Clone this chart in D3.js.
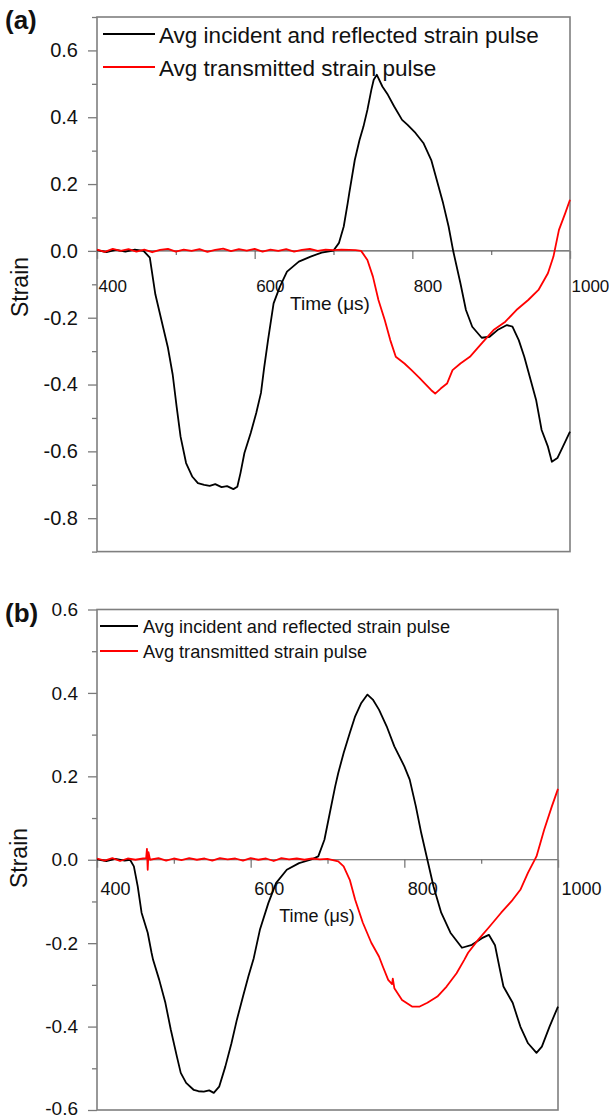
<!DOCTYPE html>
<html>
<head>
<meta charset="utf-8">
<script src="https://cdn.jsdelivr.net/npm/d3@7"></script>
<style>
body { margin: 0; background: #fff; }
svg { font-family: Arial, "Liberation Sans", sans-serif; }
</style>
</head>
<body>
<script>
// [time (us), strain]
var incidentA = [[400,0.002],[412,-0.004],[424,0.003],[436,-0.002],[448,0.004],[459,0],[467,-0.02],[474,-0.13],[484,-0.23],[490,-0.29],[496,-0.37],[501,-0.466],[506,-0.556],[513,-0.635],[521,-0.676],[528,-0.695],[536,-0.70],[543,-0.703],[550,-0.698],[558,-0.707],[565,-0.704],[573,-0.713],[578,-0.706],[582,-0.665],[587,-0.605],[595,-0.545],[602,-0.485],[608,-0.425],[612,-0.35],[617,-0.266],[624,-0.157],[632,-0.107],[641,-0.062],[656,-0.032],[671,-0.017],[685,-0.005],[700,0.001],[707,0.024],[713,0.073],[718,0.143],[720,0.173],[727,0.272],[733,0.332],[738,0.372],[743,0.422],[748,0.482],[751,0.512],[755,0.527],[762,0.492],[769,0.467],[777,0.432],[787,0.392],[794,0.377],[804,0.353],[814,0.323],[824,0.272],[831,0.212],[839,0.143],[846,0.073],[852,-0.002],[861,-0.097],[868,-0.177],[876,-0.227],[888,-0.26],[898,-0.257],[908,-0.237],[920,-0.222],[927,-0.227],[935,-0.267],[942,-0.317],[950,-0.386],[957,-0.446],[964,-0.536],[972,-0.586],[977,-0.631],[984,-0.62],[991,-0.586],[1000,-0.541]];

var transmittedA = [[400,0.004],[410,-0.003],[420,0.006],[430,0.0],[440,0.005],[450,-0.002],[460,0.004],[470,-0.004],[480,0.003],[490,0.006],[500,-0.002],[510,0.004],[520,0.0],[530,0.005],[540,-0.003],[550,0.003],[560,0.007],[570,-0.001],[580,0.005],[590,0.001],[600,0.006],[610,-0.002],[620,0.004],[630,0.0],[640,0.005],[650,-0.002],[660,0.003],[670,0.006],[680,0.0],[690,0.004],[700,0.002],[710,0.004],[720,0.003],[728,0.002],[735,0],[743,-0.027],[750,-0.077],[757,-0.147],[765,-0.207],[772,-0.267],[779,-0.317],[790,-0.337],[799,-0.357],[809,-0.38],[816,-0.397],[824,-0.417],[829,-0.427],[836,-0.412],[844,-0.397],[851,-0.357],[861,-0.337],[873,-0.317],[888,-0.277],[903,-0.237],[918,-0.212],[932,-0.177],[947,-0.147],[960,-0.117],[972,-0.067],[979,-0.017],[986,0.063],[994,0.113],[1000,0.153]];

var incidentB = [[400,0.001],[412,-0.003],[424,0.002],[436,-0.002],[443,0],[448,-0.016],[453,-0.064],[458,-0.127],[466,-0.175],[471,-0.223],[473,-0.24],[481,-0.288],[489,-0.343],[496,-0.407],[504,-0.472],[509,-0.511],[516,-0.535],[526,-0.552],[532,-0.555],[539,-0.556],[546,-0.553],[552,-0.559],[559,-0.544],[567,-0.496],[575,-0.44],[582,-0.384],[590,-0.328],[597,-0.28],[604,-0.236],[612,-0.168],[623,-0.104],[633,-0.056],[647,-0.024],[663,-0.008],[678,0],[688,0.008],[696,0.048],[703,0.112],[710,0.176],[714,0.208],[721,0.256],[729,0.304],[736,0.344],[744,0.376],[752,0.396],[759,0.384],[767,0.36],[777,0.32],[787,0.272],[800,0.224],[807,0.192],[815,0.128],[822,0.064],[830,0],[838,-0.064],[848,-0.127],[860,-0.175],[875,-0.211],[888,-0.204],[901,-0.188],[910,-0.18],[918,-0.205],[924,-0.26],[929,-0.304],[941,-0.343],[951,-0.4],[961,-0.44],[972,-0.463],[979,-0.448],[989,-0.4],[1000,-0.352]];

var transmittedB = [[400,0.003],[410,-0.002],[420,0.004],[430,-0.003],[440,0.003],[450,0.0],[460,0.003],[464,0.004],[465,0.026],[466,-0.024],[467,0.018],[469,0.0],[480,0.004],[490,-0.002],[500,0.003],[510,-0.001],[520,0.004],[530,0.0],[540,0.003],[550,-0.002],[560,0.004],[570,0.001],[580,0.003],[590,-0.002],[600,0.004],[610,0.0],[620,0.003],[630,-0.003],[640,0.004],[650,0.001],[660,0.003],[670,0.0],[680,0.003],[690,0.001],[700,0.002],[714,-0.004],[721,-0.016],[729,-0.048],[736,-0.096],[746,-0.151],[757,-0.199],[767,-0.232],[772,-0.256],[779,-0.288],[784,-0.298],[785,-0.285],[787,-0.308],[797,-0.336],[810,-0.352],[820,-0.352],[830,-0.343],[843,-0.328],[855,-0.304],[868,-0.272],[878,-0.24],[883,-0.223],[896,-0.192],[911,-0.16],[926,-0.127],[941,-0.096],[951,-0.072],[961,-0.031],[972,0.008],[982,0.072],[992,0.128],[1000,0.17]];

var xTicks = [400, 600, 800, 1000];
var xMinor = [500, 700, 900];
var yTicksA = [-0.8, -0.6, -0.4, -0.2, 0.0, 0.2, 0.4, 0.6];
var yTicksB = [-0.6, -0.4, -0.2, 0.0, 0.2, 0.4, 0.6];
var legendNames = ["Avg incident and reflected strain pulse", "Avg transmitted strain pulse"];
var seriesColors = ["#000000", "#ff0000"];

var W = 609, H = 1118;
var svg = d3.select("body").append("svg")
    .attr("width", W)
    .attr("height", H);

var panels = [
    { tag: "(a)", tagY: 29, left: 97, right: 570, top: 17, bottom: 551.6, yDomain: [-0.9, 0.7],
      yTicks: yTicksA, series: [incidentA, transmittedA],
      yFont: 20, xFont: 17, xLabDx: 1, xLabDy: 41, legFont: 22.5,
      legX: [103, 155, 159], legY: [34, 67],
      strainX: 28, strainY: 287, timeX: 330, timeY: 310, timeFont: 19 },
    { tag: "(b)", tagY: 622, left: 97, right: 558, top: 609.5, bottom: 1110, yDomain: [-0.6, 0.6],
      yTicks: yTicksB, series: [incidentB, transmittedB],
      yFont: 19, xFont: 18, xLabDx: 3, xLabDy: 35, legFont: 18.2,
      legX: [100, 138, 143], legY: [626, 651],
      strainX: 27, strainY: 858, timeX: 317, timeY: 922, timeFont: 18 }
];

var fmt = function(d){ return d.toFixed(1); };

panels.forEach(function(p){
    var x = d3.scaleLinear().domain([400, 1000]).range([p.left, p.right]);
    var y = d3.scaleLinear().domain(p.yDomain).range([p.bottom, p.top]);
    var g = svg.append("g");

    // minor y ticks every 0.1
    var minor = d3.range(Math.round(p.yDomain[0]*10), Math.round(p.yDomain[1]*10) + 1)
        .map(function(k){ return k / 10; })
        .filter(function(v){ return Math.abs(Math.round(v*10)) % 2 === 1; });

    g.append("g")
        .attr("transform", "translate(" + p.left + ",0)")
        .call(d3.axisLeft(y).tickValues(minor).tickSize(5).tickFormat(""));

    var yAxis = g.append("g")
        .attr("transform", "translate(" + p.left + ",0)")
        .call(d3.axisLeft(y).tickValues(p.yTicks).tickSize(9).tickPadding(10).tickFormat(fmt));

    yAxis.selectAll("text")
        .attr("font-size", p.yFont)
        .attr("font-family", "Arial, 'Liberation Sans', sans-serif")
        .attr("dy", function(d){ return d === p.yDomain[0] ? "0.26em" : "0.32em"; })
        .style("fill", "#111");

    // zero line with time ticks hanging below it
    g.append("g")
        .attr("transform", "translate(0," + y(0) + ")")
        .call(d3.axisBottom(x).tickValues(xMinor).tickSize(4).tickFormat(""));

    var xAxis = g.append("g")
        .attr("transform", "translate(0," + y(0) + ")")
        .call(d3.axisBottom(x).tickValues(xTicks).tickSize(8).tickFormat(String));

    xAxis.selectAll("text")
        .attr("text-anchor", "start")
        .attr("x", p.xLabDx)
        .attr("y", p.xLabDy)
        .attr("dy", 0)
        .attr("font-size", p.xFont)
        .attr("font-family", "Arial, 'Liberation Sans', sans-serif")
        .style("fill", "#111");

    g.selectAll(".domain").remove();
    g.selectAll(".tick line").attr("stroke", "#7a7a7a").attr("stroke-width", 1.3);

    g.append("line")
        .attr("x1", p.left).attr("x2", p.right)
        .attr("y1", y(0)).attr("y2", y(0))
        .attr("stroke", "#555")
        .attr("stroke-width", 1.2);

    // frame
    g.append("rect")
        .attr("x", p.left)
        .attr("y", p.top)
        .attr("width", p.right - p.left)
        .attr("height", p.bottom - p.top)
        .attr("fill", "none")
        .attr("stroke", "#7f7f7f")
        .attr("stroke-width", 1.6);

    var line = d3.line()
        .x(function(d){ return x(d[0]); })
        .y(function(d){ return y(d[1]); });

    p.series.forEach(function(s, i){
        g.append("path")
            .datum(s)
            .attr("d", line)
            .attr("fill", "none")
            .attr("stroke", seriesColors[i])
            .attr("stroke-width", 1.8)
            .attr("stroke-linejoin", "round");
    });

    // legend
    legendNames.forEach(function(name, i){
        g.append("line")
            .attr("x1", p.legX[0]).attr("x2", p.legX[1])
            .attr("y1", p.legY[i]).attr("y2", p.legY[i])
            .attr("stroke", seriesColors[i])
            .attr("stroke-width", 1.8);
        g.append("text")
            .attr("x", p.legX[2])
            .attr("y", p.legY[i] + p.legFont * 0.4)
            .attr("font-size", p.legFont)
            .attr("fill", "#111")
            .text(name);
    });

    g.append("text")
        .attr("x", 5)
        .attr("y", p.tagY)
        .attr("font-size", 26)
        .attr("font-weight", "bold")
        .attr("fill", "#111")
        .text(p.tag);

    g.append("text")
        .attr("transform", "translate(" + p.strainX + "," + p.strainY + ") rotate(-90)")
        .attr("text-anchor", "middle")
        .attr("font-size", 23)
        .attr("fill", "#111")
        .text("Strain");

    g.append("text")
        .attr("x", p.timeX)
        .attr("y", p.timeY)
        .attr("text-anchor", "middle")
        .attr("font-size", p.timeFont)
        .attr("fill", "#111")
        .text("Time (μs)");
});
</script>
</body>
</html>
